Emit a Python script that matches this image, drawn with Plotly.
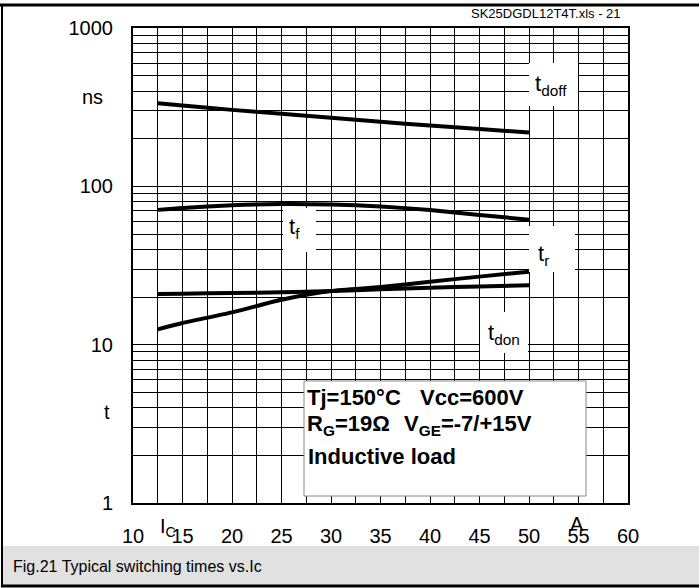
import plotly.graph_objects as go

# ---------------- data ----------------
ic = [12.5, 15, 20, 25, 30, 35, 40, 45, 50]                 # collector current, A
t_doff = [335, 324, 304, 287, 271, 256, 242, 230, 219]       # ns
t_f = [71, 73, 76, 77.4, 76.8, 74.6, 70.9, 66, 61.6]         # ns
t_r = [12.5, 13.7, 16.0, 19.2, 21.8, 23.1, 25.0, 26.9, 28.9] # ns
t_don = [20.9, 21.0, 21.2, 21.4, 21.8, 22.4, 22.9, 23.3, 23.7]

x_ticks = [10 + 2.5 * i for i in range(21)]
x_text = [("%g" % v) if v % 5 == 0 else "" for v in x_ticks]
y_ticks = [m * 10 ** d for d in range(3) for m in range(1, 10)] + [1000]
y_text = [("%g" % v) if v in (1, 10, 100, 1000) else "" for v in y_ticks]

series = [("t_doff", t_doff), ("t_f", t_f), ("t_r", t_r), ("t_don", t_don)]

FONT = "Liberation Sans, Arial, sans-serif"

# ---------------- geometry helpers (pixel -> paper) ----------------
L, R, T, B = 133, 628, 28, 503
W, H = 699, 588
def px(x):
    return (x - L) / (R - L)
def py(y):
    return (B - y) / (B - T)

fig = go.Figure()
for name, vals in series:
    fig.add_trace(go.Scatter(x=ic, y=vals, mode="lines", name=name,
                             line=dict(color="black", width=4, shape="spline", smoothing=0.6),
                             showlegend=False, hoverinfo="skip"))

shapes = []
# white label boxes hiding the grid
for (x0, y0, x1, y1) in [(529, 63, 578, 106), (283, 208, 316, 252),
                         (529, 226, 575, 272), (480, 312, 528, 353)]:
    shapes.append(dict(type="rect", xref="paper", yref="paper",
                       x0=px(x0), x1=px(x1), y0=py(y1), y1=py(y0),
                       fillcolor="white", line=dict(width=0), layer="above"))
# condition box
shapes.append(dict(type="rect", xref="paper", yref="paper",
                   x0=px(304), x1=px(586), y0=py(496), y1=py(381),
                   fillcolor="white", line=dict(color="#888888", width=1), layer="above"))
# caption band
shapes.append(dict(type="rect", xref="paper", yref="paper",
                   x0=px(3), x1=px(699), y0=py(585), y1=py(546),
                   fillcolor="#e1e1e1", line=dict(width=0), layer="below"))
# outer frame lines
shapes.append(dict(type="line", xref="paper", yref="paper",
                   x0=px(0), x1=px(699), y0=py(5), y1=py(5), line=dict(color="black", width=3)))
shapes.append(dict(type="line", xref="paper", yref="paper",
                   x0=px(2), x1=px(2), y0=py(5), y1=py(586), line=dict(color="black", width=2)))
shapes.append(dict(type="line", xref="paper", yref="paper",
                   x0=px(1), x1=px(699), y0=py(586), y1=py(586), line=dict(color="black", width=3)))

ann = []
def text(x, y, s, size=20, anchor="center", bold=False, family=FONT, color="black"):
    ann.append(dict(xref="paper", yref="paper", x=px(x), y=py(y), text=s,
                    showarrow=False, xanchor=anchor, yanchor="middle",
                    font=dict(family=family, size=size, color=color,
                              weight="bold" if bold else "normal")))

# curve labels
text(551, 85, "t<sub>doff</sub>", size=22)
text(294, 228, "t<sub>f</sub>", size=22)
text(543, 255, "t<sub>r</sub>", size=22)
text(504, 334, "t<sub>don</sub>", size=22)
# axis annotations
text(105, 97, "ns", anchor="right")
text(112, 412, "t", anchor="right")
text(168, 527, "I<sub>C</sub>")
text(577, 524, "A")
# condition text
text(305, 397, "Tj=150\u00b0C", size=22, anchor="left", bold=True)
text(418, 397, "Vcc=600V", size=22, anchor="left", bold=True)
text(305, 425, "R<sub>G</sub>=19\u03a9", size=22, anchor="left", bold=True)
text(402, 425, "V<sub>GE</sub>=-7/+15V", size=22, anchor="left", bold=True)
text(306, 456, "Inductive load", size=22, anchor="left", bold=True)
# header and caption
text(623, 14, "SK25DGDL12T4T.xls - 21", size=13, anchor="right")
text(11, 566, "Fig.21 Typical switching times vs.Ic", size=16, anchor="left")

fig.update_layout(
    width=W, height=H, autosize=False,
    margin=dict(l=L, r=W - R, t=T, b=H - B, pad=0),
    paper_bgcolor="white", plot_bgcolor="white",
    shapes=shapes, annotations=ann,
    font=dict(family=FONT, size=20, color="black"),
)
fig.update_xaxes(range=[10, 60], tickmode="array", tickvals=x_ticks, ticktext=x_text,
                 showgrid=True, gridcolor="black", gridwidth=1, zeroline=False,
                 showline=True, mirror=True, linecolor="black", linewidth=2,
                 ticks="", ticklabelstandoff=14, tickfont=dict(size=20, family=FONT))
fig.update_yaxes(type="log", range=[0, 3], tickmode="array", tickvals=y_ticks, ticktext=y_text,
                 showgrid=True, gridcolor="black", gridwidth=1, zeroline=False,
                 showline=True, mirror=True, linecolor="black", linewidth=2,
                 ticks="", ticklabelstandoff=14, tickfont=dict(size=20, family=FONT))

fig.write_html("out.html", config={"displayModeBar": False, "staticPlot": True},
               post_script="document.body.style.margin='0';document.body.style.overflow='hidden';")
